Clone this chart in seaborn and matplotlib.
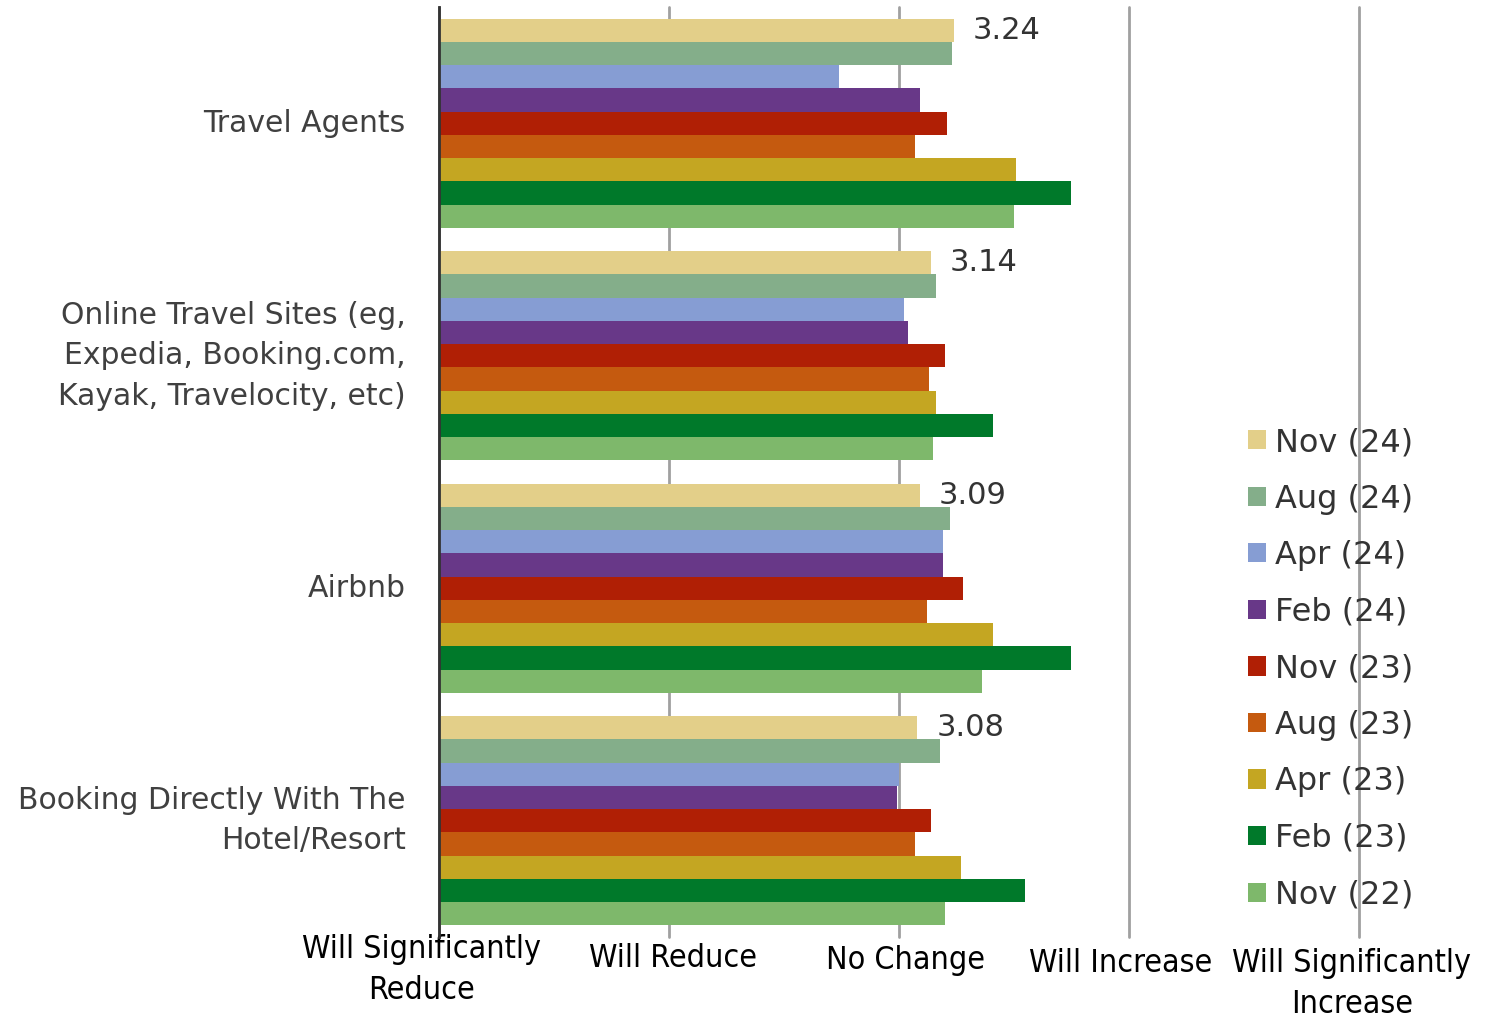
import matplotlib
matplotlib.use("Agg")
import matplotlib.pyplot as plt
import matplotlib.transforms as mtransforms
from matplotlib.patches import Patch
import seaborn as sns
import pandas as pd

categories = [
    "Travel Agents",
    "Online Travel Sites (eg,\nExpedia, Booking.com,\nKayak, Travelocity, etc)",
    "Airbnb",
    "Booking Directly With The\nHotel/Resort",
]
periods = ["Nov (24)", "Aug (24)", "Apr (24)", "Feb (24)", "Nov (23)",
           "Aug (23)", "Apr (23)", "Feb (23)", "Nov (22)"]
colors = ["#E3CF89", "#84AE8A", "#869DD3", "#683888", "#B01F05",
          "#C55A0F", "#C4A622", "#00792A", "#7EB86B"]

nov24 = [3.24, 3.14, 3.09, 3.08]
aug24 = [3.23, 3.16, 3.22, 3.18]
apr24 = [2.74, 3.02, 3.19, 3.00]
feb24 = [3.09, 3.04, 3.19, 2.99]
nov23 = [3.21, 3.20, 3.28, 3.14]
aug23 = [3.07, 3.13, 3.12, 3.07]
apr23 = [3.51, 3.16, 3.41, 3.27]
feb23 = [3.75, 3.41, 3.75, 3.55]
nov22 = [3.50, 3.15, 3.36, 3.20]

x_ticks = [1, 2, 3, 4, 5]
x_labels = ["Will Significantly\nReduce", "Will Reduce", "No Change",
            "Will Increase", "Will Significantly\nIncrease"]

series = [nov24, aug24, apr24, feb24, nov23, aug23, apr23, feb23, nov22]
rows = []
for p, vals in zip(periods, series):
    for c, v in zip(categories, vals):
        rows.append({"category": c, "period": p, "value": v})
df = pd.DataFrame(rows)

sns.set_theme(style="white")
plt.rcParams["font.family"] = ["DejaVu Sans"]

fig = plt.figure(figsize=(14.92, 10.19), dpi=100)
ax = fig.add_axes([439 / 1492, 1 - 937 / 1019, (1359 - 439) / 1492, (937 - 7) / 1019])

sns.barplot(data=df, y="category", x="value", hue="period",
            order=categories, hue_order=periods, palette=colors, saturation=1,
            orient="h", width=0.9, linewidth=0, ax=ax, legend=False)

ax.set_xlim(1, 5)
ax.set_ylim(len(categories) - 0.5, -0.5)
ax.set_xlabel("")
ax.set_ylabel("")

ax.set_xticks(x_ticks)
ax.set_xticklabels(x_labels, fontsize=23, color="black", stretch="condensed")
ax.tick_params(axis="x", length=0, pad=0)
ax.tick_params(axis="y", length=0, pad=24, labelsize=21.5, labelcolor="#404040")
for lab in ax.get_yticklabels():
    lab.set_linespacing(1.5)
    lab.set_verticalalignment("center")

ax.grid(axis="x", color="#A0A0A0", linewidth=2)
ax.grid(axis="y", visible=False)
ax.set_axisbelow(True)
for gl in ax.get_xgridlines():
    gl.set_clip_on(False)
for s in ["top", "right", "bottom"]:
    ax.spines[s].set_visible(False)
ax.spines["left"].set_color("#333333")
ax.spines["left"].set_linewidth(2)

# per-label offsets in pixels (dx, dy) to match the staggered reference labels
offsets_px = [(-17, 3), (4, -6), (7, -8), (-8, -11), (-7, -11)]
for lab, (dx, dy) in zip(ax.get_xticklabels(), offsets_px):
    lab.set_linespacing(1.4)
    lab.set_transform(lab.get_transform() +
                      mtransforms.ScaledTranslation(dx / 100, dy / 100, fig.dpi_scale_trans))

ax.bar_label(ax.containers[0], fmt="%.2f", padding=13.5, fontsize=22, color="#333333")

handles = [Patch(facecolor=c, edgecolor="none") for c in colors]
ax.legend(handles, periods, frameon=False, loc="upper left",
          bbox_to_anchor=(1248 / 1492, 1 - 427 / 1019), bbox_transform=fig.transFigure,
          fontsize=23, labelcolor="#333333", handlelength=0.55, handleheight=0.55,
          handletextpad=0.3, labelspacing=0.8, borderpad=0, borderaxespad=0)

fig.savefig("out.png", dpi=100)
